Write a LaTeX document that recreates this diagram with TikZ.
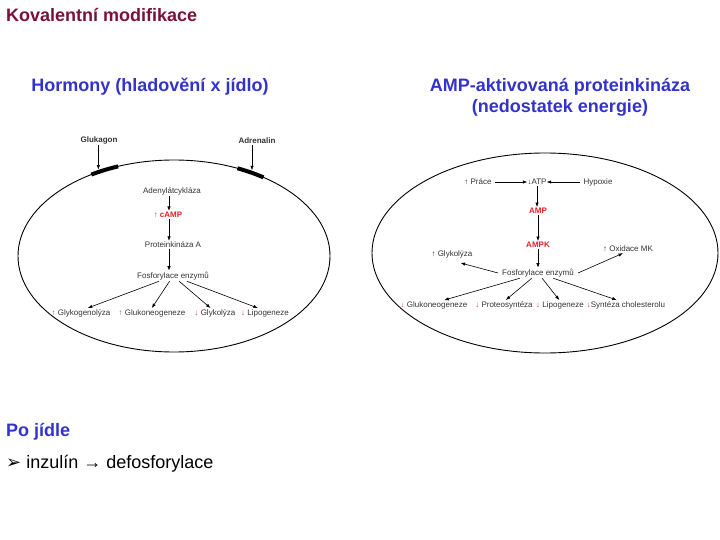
\documentclass[tikz,border=0pt]{standalone}
\usepackage{fontspec}
\setmainfont{Liberation Sans}
\newfontfamily\symfont{DejaVu Sans}
\usetikzlibrary{arrows.meta}

\definecolor{titlered}{RGB}{122,16,60}
\definecolor{headblue}{RGB}{51,51,204}
\definecolor{upblue}{RGB}{90,100,180}
\definecolor{downred}{RGB}{205,70,70}
\definecolor{ampred}{RGB}{225,30,40}

\tikzset{
  slide/.style={anchor=west, font=\fontsize{18}{21}\selectfont, inner sep=0pt},
  head/.style={font=\fontsize{18}{21}\selectfont\bfseries, text=headblue, align=center, inner sep=0pt},
  small/.style={font=\fontsize{8}{9}\selectfont, text=black!80, inner sep=1pt},
  hormon/.style={small, font=\fontsize{8}{9}\selectfont\bfseries},
  redbold/.style={small, font=\fontsize{8}{9}\selectfont\bfseries, text=ampred},
  arr/.style={-{Latex[length=4.5pt,width=3.4pt]}, line width=0.6pt},
  bar/.style={line width=4pt},
  cell/.style={line width=0.9pt}
}

\begin{document}
\begin{tikzpicture}[x=1pt,y=-1pt]
\useasboundingbox (0,0) rectangle (720,540);

% Nadpisy
\node[slide, font=\fontsize{18}{21}\selectfont\bfseries, text=titlered] (title) at (6,15) {Kovalentní modifikace};
\node[head] (hormony) at (150,87) {Hormony (hladovění x jídlo)};
\node[head] (ampkhead) at (560,97) {AMP-aktivovaná proteinkináza\\(nedostatek energie)};

% Hormony - bunka
\coordinate (c1) at (174,256);
\draw[cell] (c1) ellipse [x radius=156, y radius=96];
\draw[bar] (c1) ++(-122:156 and 96) arc[start angle=-122, end angle=-111, x radius=156, y radius=96];
\draw[bar] (c1) ++(-66:156 and 96) arc[start angle=-66, end angle=-55, x radius=156, y radius=96];
\path (c1) ++(-119:156 and 96) coordinate (glrec);
\path (c1) ++(-60:156 and 96) coordinate (adrec);

\node[hormon] (glukagon) at (99,140) {Glukagon};
\node[hormon] (adrenalin) at (257,141) {Adrenalin};
\draw[arr, shorten >=2.5pt] (glukagon.south -| glrec) -- (glrec);
\draw[arr, shorten >=2.5pt] (adrenalin.south -| adrec) -- (adrec);

\node[small] (adc) at (172,191) {Adenylátcykláza};
\node[small] (camp) at (168,215) {\textcolor{downred}{↑} \textcolor{ampred}{\textbf{cAMP}}};
\node[small] (pka) at (173,245) {Proteinkináza A};
\node[small] (fosf1) at (173,276) {Fosforylace enzymů};

\node[small] (glgn) at (81,313) {\textcolor{upblue}{↑} Glykogenolýza};
\node[small] (glng) at (152,313) {\textcolor{upblue}{↑} Glukoneogeneze};
\node[small] (glyk1) at (215,313) {\textcolor{downred}{↓} Glykolýza};
\node[small] (lipo1) at (265,313) {\textcolor{downred}{↓} Lipogeneze};

\draw[arr] ([xshift=-3pt]adc.south) -- ([xshift=1pt]camp.north);
\draw[arr] ([xshift=1pt]camp.south) -- ([xshift=-4pt]pka.north);
\draw[arr] ([xshift=-4pt]pka.south) -- ([xshift=-4pt]fosf1.north);
\draw[arr] ([shift={(-50,6)}]fosf1) -- ([shift={(11,-8)}]glgn);
\draw[arr] ([shift={(-22,7)}]fosf1) -- ([shift={(-4,-6)}]glng);
\draw[arr] ([shift={(15,7)}]fosf1) -- ([shift={(-15,-6)}]glyk1);
\draw[arr] ([shift={(46,5)}]fosf1) -- ([shift={(-13,-8)}]lipo1);

% AMPK - bunka
\draw[cell] (545,253) ellipse [x radius=173, y radius=100];

\node[small] (prace) at (478,182) {↑ Práce};
\node[small] (atp) at (537,182) {↓ATP};
\node[small] (hypoxie) at (598,182) {Hypoxie};
\node[redbold] (amp) at (538,211) {AMP};
\node[redbold] (ampk) at (538,245) {AMPK};
\node[small] (fosf2) at (538,273) {Fosforylace enzymů};
\node[small] (glyk2) at (452,254) {↑ Glykolýza};
\node[small] (oxid) at (628,249) {↑ Oxidace MK};

\node[small] (glng2) at (434,305) {\textcolor{downred}{↓} Glukoneogeneze};
\node[small] (prot) at (504,305) {\textcolor{downred}{↓} Proteosyntéza};
\node[small] (lipo2) at (560,305) {\textcolor{downred}{↓} Lipogeneze};
\node[small] (chol) at (626,305) {\textcolor{downred}{↓}Syntéza cholesterolu};

\draw[arr] ([xshift=2pt]prace.east) -- ([xshift=1pt]atp.west);
\draw[arr] ([xshift=-2pt]hypoxie.west) -- ([xshift=-1pt]atp.east);
\draw[arr] (atp.south) -- ([xshift=-1pt]amp.north);
\draw[arr] (amp.south) -- (ampk.north);
\draw[arr] (ampk.south) -- (fosf2.north);
\draw[arr] ([xshift=-3pt]fosf2.west) -- ([shift={(-13,4)}]glyk2.south east);
\draw[arr] ([xshift=3pt]fosf2.east) -- ([shift={(-5,0)}]oxid.south);
\draw[arr] ([shift={(-56,9)}]fosf2) -- ([shift={(17,-7)}]glng2);
\draw[arr] ([shift={(-26,10)}]fosf2) -- ([shift={(-1,-6)}]prot);
\draw[arr] ([shift={(19,10)}]fosf2) -- ([shift={(0,-6)}]lipo2);
\draw[arr] ([shift={(45,9)}]fosf2) -- ([shift={(-16,-7)}]chol);

% Po jidle
\node[slide, font=\fontsize{18}{21}\selectfont\bfseries, text=headblue] (pojidle) at (6,432) {Po jídle};
\node[slide] (inzulin) at (6,464) {{\symfont ➢} inzulín → defosforylace};

\end{tikzpicture}
\end{document}
